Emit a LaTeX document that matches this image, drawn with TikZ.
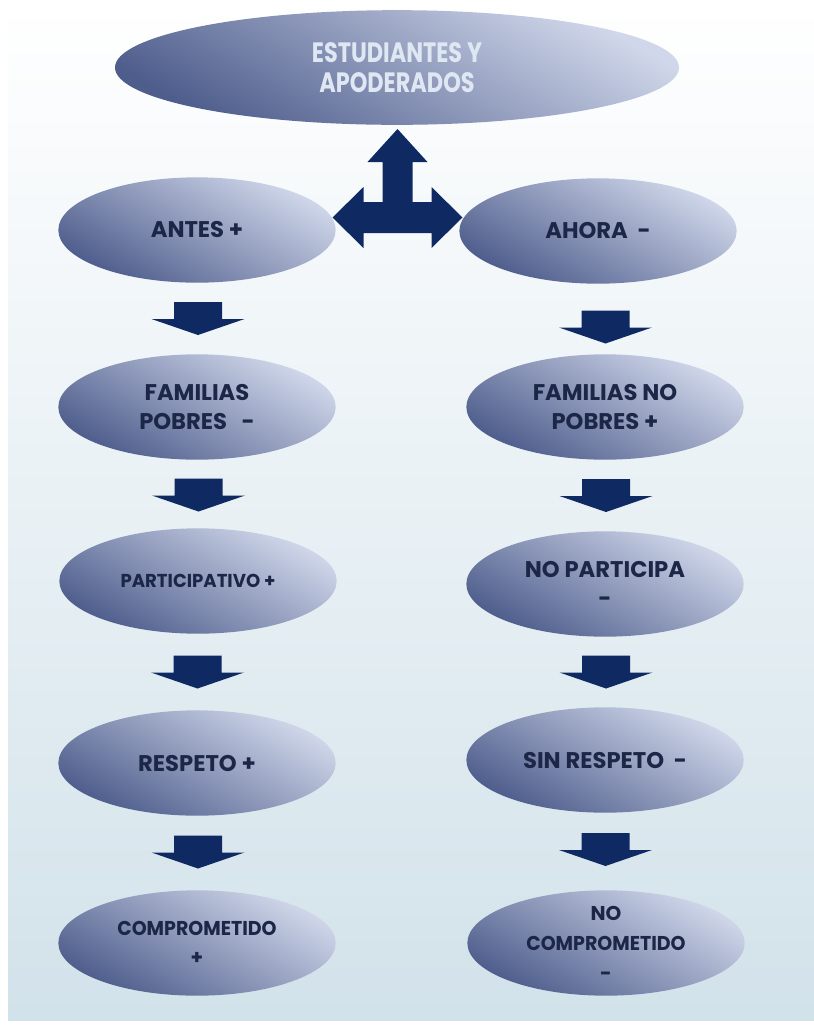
\documentclass[tikz,border=0pt]{standalone}
\usepackage{fontspec}
\setmainfont{Poppins}
\usetikzlibrary{shapes.geometric,calc}
\definecolor{navy}{HTML}{0F2A63}
\definecolor{txt}{HTML}{1C2646}
\definecolor{topT}{HTML}{DFE8F2}
\definecolor{elD}{HTML}{4E5D8C}
\definecolor{elL}{HTML}{D0D7EA}
\definecolor{bgB}{HTML}{D2E2EA}
\begin{document}
\begin{tikzpicture}[x=0.75pt,y=-0.75pt,
  ell/.style={ellipse, inner sep=0pt, minimum width=208pt, minimum height=79pt,
    bottom color=elD, top color=elL, shading angle=-30, text=txt,
    font=\bfseries\fontsize{17}{22}\selectfont, align=center},
  darrow/.pic={\fill[navy] (-24,-16.5) -- (24,-16.5) -- (24,0.5) -- (46.5,0.5)
      -- (0,16.5) -- (-46.5,0.5) -- (-24,0.5) -- cycle;}
  ]
\useasboundingbox (0,0) rectangle (814,1026);
\fill[white] (0,0) rectangle (814,1026);
\shade[top color=white, bottom color=bgB] (8,0) rectangle (814,1020);

% top
\node[ell, minimum width=423pt, minimum height=86pt, text=topT,
  font=\bfseries\fontsize{21}{23}\selectfont] (top) at (397,67.5)
  {\scalebox{0.8}[1]{ESTUDIANTES Y}\\\scalebox{0.8}[1]{APODERADOS}};

% left column
\node[ell] (antes) at (197,230) {ANTES +};
\node[ell] (famp) at (197,407) {FAMILIAS\\POBRES\ \ \ -};
\node[ell, font=\bfseries\fontsize{14}{20}\selectfont] (part) at (198,581) {\scalebox{0.97}[1]{PARTICIPATIVO +}};
\node[ell] (resp) at (197,763) {RESPETO +};
\node[ell, font=\bfseries\fontsize{15}{22}\selectfont] (comp) at (197,943) {\scalebox{0.95}[1]{COMPROMETIDO}\\+};

% right column
\node[ell] (ahora) at (598,231) {AHORA\ \ -};
\node[ell] (famnp) at (605,407) {FAMILIAS NO\\POBRES +};
\node[ell] (nopart) at (605,584) {NO PARTICIPA\\-};
\node[ell] (sinresp) at (605,760) {SIN RESPETO\ \ -};
\node[ell, font=\bfseries\fontsize{15}{22.5}\selectfont] (nocomp) at (606,943) {NO\\\scalebox{0.95}[1]{COMPROMETIDO}\\-};

% triple arrow
\coordinate (hub) at ($(antes.east)!.5!(ahora.west)+(0,-13)$);
\fill[navy, shift={(hub)}] (0,-88.5) -- (30,-55.5) -- (15,-55.5) -- (15,-15.5)
  -- (34,-15.5) -- (34,-30.5) -- (65,0) -- (34,30.5) -- (34,15.5)
  -- (-34,15.5) -- (-34,30.5) -- (-65,0) -- (-34,-30.5) -- (-34,-15.5)
  -- (-15,-15.5) -- (-15,-55.5) -- (-30,-55.5) -- cycle;

% down arrows left
\pic at ($(antes.south)!.5!(famp.north)+(1,0)$) {darrow};
\pic at ($(famp.south)!.5!(part.north)+(1,1)$) {darrow};
\pic at ($(part.south)!.5!(resp.north)+(0,0)$) {darrow};
\pic at ($(resp.south)!.5!(comp.north)+(1,-1)$) {darrow};

% down arrows right
\pic at ($(ahora.south)!.5!(famnp.north)+(4,8)$) {darrow};
\pic at ($(famnp.south)!.5!(nopart.north)+(1,0)$) {darrow};
\pic at ($(nopart.south)!.5!(sinresp.north)+(1,0)$) {darrow};
\pic at ($(sinresp.south)!.5!(nocomp.north)+(0,-2)$) {darrow};
\end{tikzpicture}
\end{document}
